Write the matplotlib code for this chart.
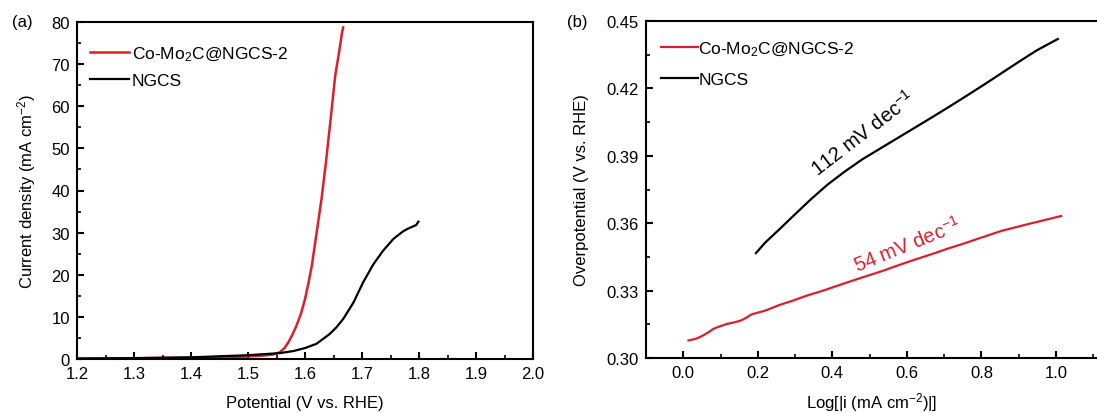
import matplotlib
matplotlib.use('Agg')
import matplotlib.pyplot as plt
from matplotlib.ticker import MultipleLocator

plt.rcParams['font.family'] = ['Liberation Sans', 'DejaVu Sans']
plt.rcParams['mathtext.fontset'] = 'custom'
plt.rcParams['mathtext.rm'] = 'Liberation Sans'
plt.rcParams['mathtext.default'] = 'regular'
plt.rcParams['font.size'] = 12

# (a) LSV
v_red = [1.20, 1.25, 1.30, 1.35, 1.40, 1.45, 1.50, 1.53, 1.545, 1.556, 1.564, 1.571, 1.578,
         1.585, 1.593, 1.600, 1.606, 1.612, 1.6205, 1.629, 1.637, 1.645, 1.653, 1.660, 1.665,
         1.667]
j_red = [0.1, 0.15, 0.2, 0.25, 0.3, 0.4, 0.6, 0.85, 1.1, 1.6, 2.6, 4.0, 5.8,
         7.9, 10.8, 14.2, 18.0, 22.2, 30.1, 38.0, 47.0, 57.0, 67.3, 73.0, 77.5,
         78.7]
v_blk = [1.20, 1.30, 1.40, 1.50, 1.556, 1.58, 1.60, 1.62, 1.643, 1.655, 1.667, 1.685, 1.702,
         1.72, 1.737, 1.755, 1.772, 1.78, 1.79, 1.795, 1.799]
j_blk = [0.1, 0.2, 0.4, 0.9, 1.4, 1.9, 2.6, 3.6, 5.9, 7.5, 9.5, 13.4, 18.2,
         22.5, 25.7, 28.5, 30.3, 30.9, 31.5, 31.8, 32.6]

# (b) Tafel
x_red = [0.014, 0.035, 0.053, 0.068, 0.081, 0.10, 0.118, 0.138, 0.155, 0.170, 0.183, 0.20,
         0.22, 0.24, 0.258, 0.275, 0.295, 0.315, 0.332, 0.36, 0.388, 0.43, 0.481, 0.53,
         0.574, 0.62, 0.668, 0.71, 0.761, 0.80, 0.854, 0.93, 1.014]
y_red = [0.3078, 0.3086, 0.3100, 0.3115, 0.3130, 0.3142, 0.3152, 0.3159, 0.3167, 0.3180,
         0.3194, 0.3202, 0.3211, 0.3224, 0.3236, 0.3245, 0.3256, 0.3268, 0.3278, 0.3292,
         0.3307, 0.3331, 0.3359, 0.3385, 0.3411, 0.3437, 0.3463, 0.3487, 0.3514, 0.3536,
         0.3566, 0.3598, 0.3632]
x_blk = [0.195, 0.22, 0.258, 0.295, 0.342, 0.388, 0.435, 0.481, 0.53, 0.574, 0.62, 0.668,
         0.715, 0.761, 0.81, 0.854, 0.90, 0.947, 1.005]
y_blk = [0.3467, 0.3514, 0.3573, 0.3632, 0.3706, 0.3773, 0.3832, 0.3885, 0.3934, 0.3978,
         0.4024, 0.4072, 0.4120, 0.4168, 0.4220, 0.4268, 0.4318, 0.4368, 0.4420]

red = '#d9202b'
lbl_red = 'Co-Mo$_2$C@NGCS-2'
lbl_blk = 'NGCS'

fig = plt.figure(figsize=(10.97, 4.14), dpi=100)
ax1 = fig.add_axes([77 / 1097, 54 / 414, 456 / 1097, 337 / 414])
ax2 = fig.add_axes([646 / 1097, 55 / 414, 451 / 1097, 337 / 414])


def estilo(ax, ylx):
    for s in ax.spines.values():
        s.set_linewidth(1.5)
    ax.tick_params(which='both', direction='in', top=False, right=False, labelsize=12)
    ax.tick_params(which='major', length=5, width=1.5, pad=5)
    ax.tick_params(which='minor', length=3, width=1.2)
    ax.xaxis.set_label_coords(0.5, -0.128)
    ax.xaxis.label.set_va('center')
    ax.yaxis.set_label_coords(ylx, 0.5)
    ax.yaxis.label.set_va('center')


ax1.plot(v_red, j_red, color=red, lw=1.8, label=lbl_red)
ax1.plot(v_blk, j_blk, color='black', lw=1.6, label=lbl_blk)
ax1.set_xlim(1.2, 2.0)
ax1.set_ylim(0, 80)
ax1.xaxis.set_major_locator(MultipleLocator(0.1))
ax1.xaxis.set_minor_locator(MultipleLocator(0.05))
ax1.yaxis.set_major_locator(MultipleLocator(10))
ax1.yaxis.set_minor_locator(MultipleLocator(5))
ax1.set_xlabel('Potential (V vs. RHE)', fontsize=12)
ax1.set_ylabel('Current density (mA cm$^{-2}$)', fontsize=12)
estilo(ax1, -0.11)
ax1.legend(loc='upper left', bbox_to_anchor=(0.013, 0.955), frameon=False, borderaxespad=0,
           handlelength=2.25, handletextpad=0.17, labelspacing=0.6, fontsize=12.5)

ax2.plot(x_red, y_red, color=red, lw=1.6, label=lbl_red)
ax2.plot(x_blk, y_blk, color='black', lw=1.6, label=lbl_blk)
ax2.set_xlim(-0.1, 1.11)
ax2.set_ylim(0.30, 0.45)
ax2.xaxis.set_major_locator(MultipleLocator(0.2))
ax2.xaxis.set_minor_locator(MultipleLocator(0.1))
ax2.yaxis.set_major_locator(MultipleLocator(0.03))
ax2.yaxis.set_minor_locator(MultipleLocator(0.015))
ax2.xaxis.set_major_formatter(plt.FormatStrFormatter('%.1f'))
ax2.yaxis.set_major_formatter(plt.FormatStrFormatter('%.2f'))
ax2.spines['right'].set_visible(False)
ax2.set_xlabel('Log[|i (mA cm$^{-2}$)|]', fontsize=12)
ax2.set_ylabel('Overpotential (V vs. RHE)', fontsize=12)
estilo(ax2, -0.144)
ax2.legend(loc='upper left', bbox_to_anchor=(0.018, 0.965), frameon=False, borderaxespad=0,
           handlelength=2.1, handletextpad=0.05, labelspacing=0.8, fontsize=12.5)

ax2.text(0.481, 0.4005, '112 mV dec$^{-1}$', rotation=37.5, color='black', fontsize=14.5,
         ha='center', va='center')
ax2.text(0.60, 0.3505, '54 mV dec$^{-1}$', rotation=22, color=red, fontsize=14.5,
         ha='center', va='center')

fig.text(12 / 1097, 1 - 22 / 414, '(a)', fontsize=12, va='center')
fig.text(567 / 1097, 1 - 22 / 414, '(b)', fontsize=12, va='center')

fig.savefig('out.png', dpi=100)
